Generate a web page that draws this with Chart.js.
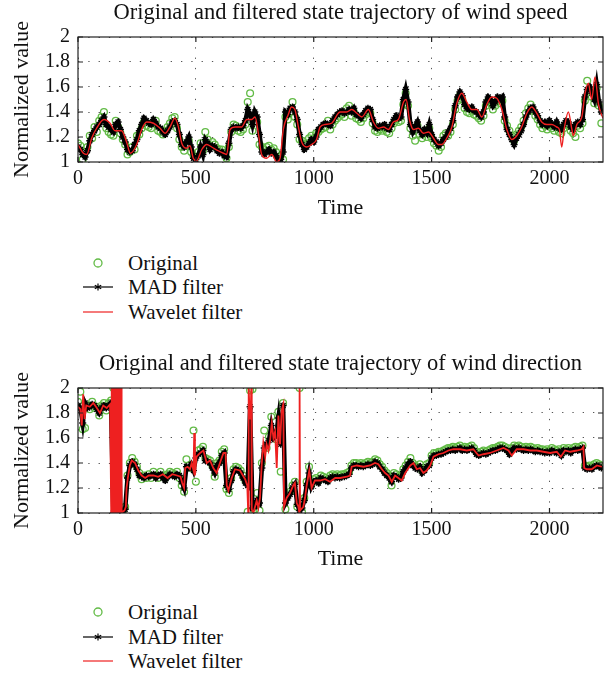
<!DOCTYPE html>
<html>
<head>
<meta charset="utf-8">
<script src="https://cdn.jsdelivr.net/npm/chart.js@4.4.1/dist/chart.umd.min.js"></script>
<style>
  body { margin: 0; background: #fff; width: 613px; height: 680px; position: relative; overflow: hidden; font-family: "Liberation Serif", serif; }
  canvas { position: absolute; left: 0; }
  .item { position: absolute; left: 80px; width: 260px; height: 24px; font-size: 21px; color: #111; }
  .item svg { position: absolute; left: 0; top: 0; }
  .item span { position: absolute; left: 48px; top: 0; line-height: 24px; }
</style>
</head>
<body>
<canvas id="speedChart" width="613" height="221" style="top:0px"></canvas>
<canvas id="dirChart" width="613" height="221" style="top:351px"></canvas>

<div id="speedLegend"></div>
<div id="dirLegend"></div>

<script>
// sample times of the original and MAD series (every 10 steps)
const sampleTime = [];
for (let t = 0; t <= 2220; t += 10) sampleTime.push(t);

// ---- wind speed ----
const speedOriginal = [
  1.15,1.13,1.02,1.08,1.12,1.21,1.19,1.28,1.24,1.33,
  1.36,1.40,1.27,1.24,1.22,1.21,1.33,1.28,1.23,1.18,
  1.14,1.06,1.08,1.12,1.10,1.21,1.22,1.27,1.32,1.29,
  1.28,1.27,1.31,1.33,1.25,1.24,1.22,1.25,1.28,1.31,
  1.35,1.36,1.27,1.18,1.12,1.09,1.13,1.17,1.08,1.05,
  1.04,1.08,1.15,1.09,1.24,1.18,1.13,1.16,1.14,1.11,
  1.10,1.10,1.07,1.03,1.12,1.24,1.30,1.29,1.25,1.24,
  1.26,1.30,1.48,1.55,1.25,1.36,1.32,1.14,1.12,1.10,
  1.12,1.13,1.10,1.11,1.08,1.04,1.05,1.02,1.36,1.34,
  1.40,1.48,1.36,1.30,1.18,1.17,1.14,1.15,1.19,1.21,
  1.19,1.23,1.24,1.26,1.27,1.28,1.33,1.26,1.30,1.33,
  1.35,1.37,1.38,1.36,1.43,1.45,1.37,1.40,1.35,1.34,
  1.32,1.35,1.38,1.40,1.39,1.31,1.25,1.24,1.26,1.25,
  1.27,1.24,1.23,1.27,1.31,1.34,1.32,1.33,1.46,1.55,
  1.45,1.27,1.21,1.17,1.29,1.22,1.19,1.23,1.20,1.27,
  1.19,1.15,1.13,1.09,1.12,1.21,1.23,1.21,1.24,1.30,
  1.42,1.49,1.53,1.50,1.43,1.40,1.39,1.41,1.38,1.37,
  1.35,1.33,1.37,1.45,1.49,1.47,1.42,1.45,1.49,1.47,
  1.49,1.33,1.29,1.25,1.21,1.17,1.22,1.25,1.28,1.33,
  1.39,1.43,1.46,1.41,1.37,1.34,1.30,1.27,1.29,1.26,
  1.30,1.27,1.25,1.29,1.24,1.23,1.27,1.30,1.29,1.25,
  1.23,1.20,1.29,1.27,1.31,1.49,1.65,1.57,1.52,1.47,
  1.59,1.45,1.31
];
const speedMad = [
  1.12,1.10,1.06,1.04,1.09,1.17,1.22,1.25,1.28,1.30,
  1.33,1.36,1.30,1.28,1.26,1.24,1.30,1.32,1.26,1.20,
  1.16,1.10,1.08,1.09,1.14,1.18,1.25,1.30,1.35,1.33,
  1.31,1.30,1.34,1.31,1.28,1.27,1.24,1.22,1.25,1.28,
  1.32,1.33,1.30,1.22,1.14,1.12,1.16,1.20,1.12,1.03,
  1.02,1.05,1.12,1.06,1.18,1.15,1.10,1.13,1.12,1.09,
  1.07,1.08,1.05,1.04,1.15,1.26,1.28,1.27,1.28,1.27,
  1.29,1.33,1.42,1.38,1.30,1.40,1.36,1.22,1.08,1.06,
  1.08,1.10,1.07,1.08,1.05,1.01,1.02,1.08,1.40,1.38,
  1.43,1.44,1.40,1.34,1.22,1.14,1.10,1.12,1.15,1.18,
  1.16,1.20,1.26,1.28,1.30,1.31,1.30,1.29,1.33,1.36,
  1.38,1.40,1.41,1.39,1.40,1.42,1.40,1.43,1.38,1.37,
  1.35,1.38,1.41,1.43,1.42,1.34,1.28,1.27,1.29,1.28,
  1.30,1.27,1.26,1.30,1.34,1.37,1.35,1.36,1.50,1.58,
  1.48,1.30,1.24,1.28,1.32,1.25,1.22,1.26,1.23,1.30,
  1.22,1.18,1.16,1.13,1.15,1.18,1.20,1.24,1.27,1.33,
  1.45,1.52,1.56,1.53,1.46,1.43,1.42,1.44,1.41,1.40,
  1.38,1.36,1.40,1.48,1.52,1.50,1.45,1.48,1.52,1.50,
  1.52,1.36,1.26,1.22,1.18,1.14,1.19,1.22,1.25,1.30,
  1.36,1.40,1.43,1.44,1.40,1.37,1.33,1.30,1.32,1.29,
  1.33,1.30,1.28,1.32,1.27,1.26,1.30,1.33,1.32,1.28,
  1.26,1.30,1.32,1.30,1.34,1.52,1.58,1.60,1.55,1.50,
  1.62,1.48,1.40
];
const speedWaveTime = [
  0,23,37,58,79,110,136,157,185,206,
  222,249,270,291,320,348,369,390,411,426,
  440,461,475,489,503,525,546,567,595,617,
  631,645,666,694,716,737,751,765,779,800,
  822,843,857,871,892,906,920,935,949,970,
  991,1012,1027,1048,1076,1104,1112,1140,1161,1183,
  1204,1232,1253,1274,1296,1317,1338,1359,1381,1392,
  1406,1423,1444,1465,1487,1508,1529,1543,1564,1586,
  1607,1628,1649,1670,1692,1713,1734,1755,1776,1798,
  1819,1840,1861,1882,1904,1925,1946,1967,1989,2010,
  2031,2042,2052,2062,2080,2095,2101,2116,2137,2151,
  2165,2179,2193,2208,2227
];
const speedWaveValue = [
  1.14,1.07,1.06,1.19,1.27,1.34,1.31,1.25,1.25,1.16,
  1.07,1.14,1.26,1.32,1.31,1.27,1.23,1.28,1.35,1.28,
  1.15,1.11,1.13,1.03,1.01,1.10,1.14,1.12,1.09,1.07,
  1.06,1.26,1.28,1.28,1.34,1.34,1.36,1.23,1.06,1.03,
  1.06,1.00,1.03,1.26,1.38,1.44,1.42,1.28,1.16,1.12,
  1.14,1.18,1.28,1.30,1.31,1.39,1.40,1.40,1.42,1.39,
  1.36,1.42,1.32,1.27,1.28,1.26,1.32,1.34,1.48,1.50,
  1.34,1.26,1.27,1.23,1.24,1.19,1.14,1.14,1.19,1.28,
  1.47,1.55,1.48,1.42,1.42,1.36,1.46,1.52,1.51,1.42,
  1.26,1.18,1.21,1.28,1.39,1.44,1.39,1.32,1.30,1.30,
  1.28,1.26,1.12,1.26,1.40,1.26,1.21,1.30,1.36,1.55,
  1.63,1.50,1.68,1.46,1.35
];

// ---- wind direction ----
const dirOriginal = [
  1.89,1.97,1.67,1.68,1.86,1.83,1.89,1.84,1.85,1.78,
  1.86,1.88,1.82,1.88,1.90,2.00,1.99,2.00,1.01,1.00,
  1.05,1.30,1.40,1.44,1.41,1.37,1.32,1.27,1.30,1.28,
  1.31,1.28,1.33,1.30,1.28,1.33,1.30,1.28,1.31,1.33,
  1.32,1.31,1.33,1.28,1.22,1.17,1.43,1.38,1.36,1.66,
  1.25,1.50,1.51,1.53,1.44,1.43,1.42,1.38,1.29,1.40,
  1.42,1.49,1.51,1.19,1.16,1.28,1.35,1.37,1.36,1.34,
  1.30,1.26,1.01,1.98,1.99,1.03,1.16,1.02,1.40,1.66,
  1.52,1.61,1.77,1.63,1.59,1.81,1.33,1.88,1.03,1.15,
  1.17,1.22,1.25,1.05,2.00,1.01,1.12,1.25,1.37,1.23,
  1.27,1.28,1.26,1.30,1.29,1.28,1.27,1.30,1.31,1.30,
  1.31,1.30,1.31,1.31,1.32,1.33,1.38,1.40,1.40,1.39,
  1.40,1.39,1.40,1.41,1.40,1.41,1.43,1.42,1.39,1.37,
  1.34,1.32,1.30,1.22,1.32,1.31,1.29,1.30,1.35,1.38,
  1.41,1.44,1.40,1.38,1.37,1.39,1.34,1.36,1.39,1.40,
  1.46,1.48,1.48,1.49,1.49,1.50,1.51,1.52,1.52,1.53,
  1.52,1.53,1.54,1.52,1.53,1.52,1.53,1.54,1.52,1.49,
  1.48,1.49,1.50,1.49,1.50,1.51,1.52,1.52,1.53,1.54,
  1.54,1.53,1.52,1.49,1.52,1.54,1.53,1.54,1.53,1.52,
  1.53,1.52,1.53,1.52,1.51,1.52,1.51,1.51,1.50,1.51,
  1.50,1.52,1.51,1.50,1.51,1.48,1.52,1.51,1.52,1.50,
  1.52,1.53,1.52,1.53,1.54,1.38,1.37,1.38,1.37,1.39,
  1.40,1.39,1.38
];
const dirMad = [
  1.86,1.84,1.72,1.88,1.84,1.85,1.87,1.86,1.83,1.80,
  1.84,1.86,1.84,1.86,1.88,1.00,2.00,1.99,1.00,1.01,
  1.03,1.28,1.38,1.41,1.39,1.35,1.30,1.29,1.28,1.30,
  1.29,1.30,1.31,1.28,1.30,1.31,1.28,1.26,1.29,1.31,
  1.30,1.29,1.31,1.30,1.25,1.20,1.37,1.36,1.39,1.34,
  1.44,1.47,1.48,1.50,1.42,1.41,1.40,1.36,1.32,1.38,
  1.40,1.46,1.48,1.22,1.19,1.26,1.33,1.35,1.34,1.32,
  1.28,1.24,1.22,1.85,1.04,1.05,1.10,1.08,1.36,1.52,
  1.55,1.58,1.70,1.60,1.62,1.76,1.55,1.86,1.08,1.12,
  1.15,1.20,1.23,1.07,1.02,1.04,1.10,1.22,1.32,1.21,
  1.25,1.26,1.24,1.28,1.27,1.26,1.25,1.28,1.29,1.28,
  1.29,1.28,1.29,1.29,1.30,1.31,1.36,1.38,1.38,1.37,
  1.38,1.37,1.38,1.39,1.38,1.39,1.41,1.40,1.37,1.35,
  1.32,1.30,1.28,1.25,1.30,1.29,1.27,1.28,1.33,1.36,
  1.39,1.41,1.38,1.36,1.35,1.37,1.32,1.34,1.37,1.38,
  1.44,1.46,1.46,1.47,1.47,1.48,1.49,1.50,1.50,1.51,
  1.50,1.51,1.52,1.50,1.51,1.50,1.51,1.52,1.50,1.47,
  1.46,1.47,1.48,1.47,1.48,1.49,1.50,1.50,1.51,1.52,
  1.52,1.51,1.50,1.47,1.50,1.52,1.51,1.52,1.51,1.50,
  1.51,1.50,1.51,1.50,1.49,1.50,1.49,1.49,1.48,1.49,
  1.48,1.50,1.49,1.48,1.49,1.46,1.50,1.49,1.50,1.48,
  1.50,1.51,1.50,1.51,1.52,1.36,1.35,1.36,1.35,1.37,
  1.38,1.37,1.36
];
const dirWaveTime = [
  0,10,16,22,28,35,50,65,80,93,
  107,122,136,141,143,145,147,149,151,153,
  155,157,159,161,163,165,167,169,171,173,
  175,177,179,181,183,185,190,197,203,206,
  213,220,228,242,256,270,285,300,320,340,
  360,380,400,420,435,442,450,455,465,475,
  482,490,493,496,503,518,532,546,560,574,
  588,602,617,626,631,638,652,666,687,709,
  718,722,724,728,732,735,737,744,751,758,
  765,772,779,786,794,800,808,815,822,829,
  836,843,850,857,864,871,874,885,899,913,
  920,928,935,939,940,942,956,963,970,981,
  991,1005,1027,1048,1069,1091,1112,1140,1154,1161,
  1183,1211,1239,1260,1274,1289,1303,1317,1331,1345,
  1359,1373,1388,1409,1423,1437,1451,1465,1479,1494,
  1508,1529,1550,1571,1593,1621,1649,1677,1699,1720,
  1748,1776,1805,1826,1840,1861,1890,1918,1946,1974,
  2003,2031,2048,2066,2088,2116,2137,2144,2147,2158,
  2179,2201,2222
];
const dirWaveValue = [
  1.85,1.83,1.70,1.95,1.75,1.86,1.85,1.88,1.84,1.80,
  1.86,1.84,1.87,1.00,2.00,1.00,2.00,1.00,2.00,1.00,
  2.00,1.00,2.00,1.00,2.00,1.00,2.00,1.00,2.00,1.00,
  2.00,1.00,2.00,1.00,2.00,1.00,1.01,1.02,1.05,1.20,
  1.30,1.38,1.42,1.40,1.34,1.30,1.28,1.30,1.30,1.29,
  1.31,1.28,1.31,1.30,1.29,1.24,1.20,1.36,1.37,1.35,
  1.40,1.34,1.64,1.30,1.45,1.48,1.50,1.40,1.42,1.36,
  1.32,1.40,1.48,1.48,1.22,1.18,1.28,1.35,1.34,1.27,
  1.22,1.00,2.00,1.80,1.75,2.00,1.03,1.00,1.05,1.10,
  1.04,1.12,1.38,1.56,1.45,1.55,1.50,1.58,1.72,1.60,
  1.65,1.36,1.78,1.55,1.82,1.87,1.05,1.12,1.16,1.22,
  1.24,1.08,1.05,1.00,2.00,1.02,1.05,1.12,1.22,1.34,
  1.20,1.26,1.26,1.27,1.25,1.28,1.28,1.29,1.30,1.37,
  1.38,1.37,1.38,1.40,1.39,1.35,1.32,1.30,1.25,1.30,
  1.28,1.26,1.32,1.38,1.40,1.35,1.36,1.32,1.34,1.38,
  1.45,1.47,1.48,1.50,1.51,1.51,1.50,1.51,1.46,1.47,
  1.48,1.50,1.52,1.50,1.46,1.51,1.51,1.50,1.50,1.49,
  1.48,1.49,1.45,1.50,1.49,1.50,1.51,1.53,1.36,1.35,
  1.35,1.38,1.37
];

const timeTicks = [0, 500, 1000, 1500, 2000];
const valueTicks = [1, 1.2, 1.4, 1.6, 1.8, 2];
const seriesNames = ['Original', 'MAD filter', 'Wavelet filter'];

const green = '#62bb46';
const red = '#ee2020';
const serif = 'Liberation Serif';

function pairs(xs, ys) {
  return xs.map((x, i) => ({ x: x, y: ys[i] }));
}

// box round the plot with short inward ticks on all four sides
const framePlugin = {
  id: 'frame',
  afterDraw(chart) {
    const ctx = chart.ctx, a = chart.chartArea;
    const xs = chart.scales.x, ys = chart.scales.y;
    ctx.save();
    ctx.strokeStyle = '#222';
    ctx.lineWidth = 1.2;
    ctx.strokeRect(a.left, a.top, a.right - a.left, a.bottom - a.top);
    ctx.beginPath();
    timeTicks.forEach(v => {
      const px = xs.getPixelForValue(v);
      ctx.moveTo(px, a.bottom); ctx.lineTo(px, a.bottom - 5);
      ctx.moveTo(px, a.top); ctx.lineTo(px, a.top + 5);
    });
    valueTicks.forEach(v => {
      const py = ys.getPixelForValue(v);
      ctx.moveTo(a.left, py); ctx.lineTo(a.left + 5, py);
      ctx.moveTo(a.right, py); ctx.lineTo(a.right - 5, py);
    });
    ctx.stroke();
    ctx.restore();
  }
};

function makeChart(id, title, orig, mad, waveT, waveV, smooth) {
  return new Chart(document.getElementById(id), {
    type: 'line',
    data: {
      datasets: [
        {
          label: seriesNames[2],
          data: pairs(waveT, waveV),
          borderColor: red,
          borderWidth: smooth ? 1.4 : 1.8,
          pointRadius: 0,
          cubicInterpolationMode: smooth ? 'monotone' : 'default',
          tension: 0,
          order: 1
        },
        {
          label: seriesNames[1],
          data: pairs(sampleTime, mad),
          borderColor: '#000',
          borderWidth: 4.5,
          pointStyle: 'star',
          pointRadius: 3.5,
          pointBorderColor: '#000',
          pointBorderWidth: 1.4,
          order: 2
        },
        {
          label: seriesNames[0],
          data: pairs(sampleTime, orig),
          showLine: false,
          pointStyle: 'circle',
          pointRadius: 3.4,
          pointBorderColor: green,
          pointBackgroundColor: 'rgba(0,0,0,0)',
          pointBorderWidth: 1.3,
          order: 3
        }
      ]
    },
    options: {
      responsive: false,
      animation: false,
      events: [],
      layout: { padding: { left: 0, right: 10, top: 0, bottom: 0 } },
      plugins: {
        legend: { display: false },
        tooltip: { enabled: false },
        title: {
          display: true,
          fullSize: false,
          text: title,
          color: '#111',
          font: { family: serif, size: 22.5, weight: 'normal' },
          padding: { top: 0, bottom: 10 }
        }
      },
      scales: {
        x: {
          type: 'linear',
          min: 0,
          max: 2227,
          afterFit: s => { s.height = 59; },
          afterBuildTicks: s => { s.ticks = timeTicks.map(v => ({ value: v })); },
          ticks: { color: '#111', font: { family: serif, size: 20 }, padding: 5, maxRotation: 0, autoSkip: false, callback: v => String(v) },
          grid: { color: '#555', drawTicks: false, lineWidth: 1 },
          border: { display: false, dash: [1.3, 9] },
          title: { display: true, text: 'Time', color: '#111', font: { family: serif, size: 22 }, padding: { top: 0, bottom: 0 } }
        },
        y: {
          min: 1,
          max: 2,
          afterFit: s => { s.width = 78; },
          afterBuildTicks: s => { s.ticks = valueTicks.map(v => ({ value: v })); },
          ticks: { color: '#111', font: { family: serif, size: 20 }, padding: 8, autoSkip: false, callback: v => String(v) },
          grid: { color: '#555', drawTicks: false, lineWidth: 1 },
          border: { display: false, dash: [1.3, 9] },
          title: { display: true, text: 'Normalized value', color: '#111', font: { family: serif, size: 22 }, padding: { top: 9, bottom: 0 } }
        }
      }
    },
    plugins: [framePlugin]
  });
}

makeChart('speedChart', 'Original and filtered state trajectory of wind speed',
  speedOriginal, speedMad, speedWaveTime, speedWaveValue, true);
makeChart('dirChart', 'Original and filtered state trajectory of wind direction',
  dirOriginal, dirMad, dirWaveTime, dirWaveValue, false);

// legends under each chart
const markers = [
  '<svg width="36" height="24"><circle cx="18" cy="12" r="4" fill="none" stroke="' + green + '" stroke-width="1.3"/></svg>',
  '<svg width="36" height="24"><line x1="3" y1="12" x2="33" y2="12" stroke="#000" stroke-width="1.2"/>' +
    '<path d="M18 8.5V15.5M14.8 10.2L21.2 13.8M14.8 13.8L21.2 10.2" stroke="#000" stroke-width="1.2"/></svg>',
  '<svg width="36" height="24"><line x1="3" y1="12" x2="33" y2="12" stroke="' + red + '" stroke-width="1.2"/></svg>'
];
function makeLegend(id, rows) {
  const box = document.getElementById(id);
  seriesNames.forEach((name, i) => {
    const div = document.createElement('div');
    div.className = 'item';
    div.style.top = (rows[i] - 12) + 'px';
    div.innerHTML = markers[i] + '<span>' + name + '</span>';
    box.appendChild(div);
  });
}
makeLegend('speedLegend', [263, 287, 312]);
makeLegend('dirLegend', [612, 637, 661]);
</script>
</body>
</html>
